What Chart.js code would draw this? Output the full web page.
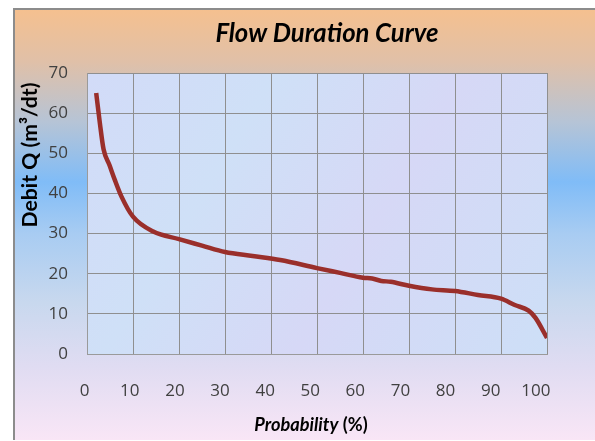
<!DOCTYPE html>
<html>
<head>
<meta charset="utf-8">
<script src="https://cdn.jsdelivr.net/npm/chart.js@4/dist/chart.umd.min.js"></script>
<style>
  body { margin: 0; background: #fff; }
  #frame {
    position: absolute; left: 13px; top: 8px; width: 582px; height: 432px;
    box-sizing: border-box;
    border-left: 2px solid #8c8c8c; border-top: 2px solid #8c8c8c;
    background: linear-gradient(to bottom, #f5c08f 0%, #e0c0a8 12%, #b6c4d6 26%, #80bcf7 40%, #a8ccf2 52%, #c8d8ee 68%, #e0dcf2 83%, #f9e6f6 100%);
  }
  #wrap { position: absolute; left: 13px; top: 8px; width: 582px; height: 432px; }
</style>
</head>
<body>
<div id="frame"></div>
<div id="wrap"><canvas id="chartFlow"></canvas></div>
<script>
// data
const probability = [2, 2.8, 3.6, 4.9, 6, 7.5, 10, 14.4, 20, 25, 30, 36, 42, 50, 55, 60, 62, 64, 66, 70, 75, 80, 85, 90, 93, 96, 97.5, 100];
const debit = [65, 57.5, 51, 47, 43.5, 39.2, 34.2, 30.5, 28.6, 27, 25.4, 24.4, 23.4, 21.4, 20.2, 19, 18.8, 18.2, 18, 17, 16.1, 15.7, 14.7, 13.8, 12.2, 10.8, 9, 4];
const xTicks = [0, 10, 20, 30, 40, 50, 60, 70, 80, 90, 100];
const yTicks = [0, 10, 20, 30, 40, 50, 60, 70];
const chartTitle = "Flow Duration Curve";
const yTitle = "Debit Q (m\u00B3/dt)";
const xTitleA = "Probability";
const xTitleB = " (%)";

let points = [];
for (let i = 0; i < probability.length; i++) {
  points.push({ x: probability[i], y: debit[i] });
}

// font size that makes text fill a given width
function fitFont(ctx, text, style, family, width) {
  ctx.font = style + " 20px " + family;
  let size = 20 * width / ctx.measureText(text).width;
  return style + " " + size.toFixed(1) + "px " + family;
}

const plotBackground = {
  id: "plotBackground",
  beforeDraw(chart) {
    let a = chart.chartArea;
    let ctx = chart.ctx;
    let g = ctx.createLinearGradient(a.left, a.top, a.right, a.bottom);
    g.addColorStop(0, "#d2dbf8");
    g.addColorStop(0.3, "#cfe0f7");
    g.addColorStop(0.6, "#d6d8f6");
    g.addColorStop(1, "#cddff7");
    ctx.save();
    ctx.fillStyle = g;
    ctx.fillRect(a.left, a.top, a.right - a.left, a.bottom - a.top);
    ctx.restore();
  },
};

const titles = {
  id: "titles",
  afterDraw(chart) {
    let ctx = chart.ctx;
    ctx.save();
    ctx.fillStyle = "#000";
    ctx.textBaseline = "alphabetic";

    // chart title
    ctx.textAlign = "center";
    ctx.font = fitFont(ctx, chartTitle, "italic bold", "Lato", 223);
    ctx.fillText(chartTitle, 314, 34);

    // x title, two parts
    ctx.textAlign = "left";
    let fa = fitFont(ctx, xTitleA + xTitleB, "italic bold", "Lato", 112);
    ctx.font = fa;
    let wa = ctx.measureText(xTitleA).width;
    let fb = fa.replace("italic ", "");
    ctx.font = fb;
    let wb = ctx.measureText(xTitleB).width;
    let x0 = 298 - (wa + wb) / 2;
    ctx.font = fa;
    ctx.fillText(xTitleA, x0, 423);
    ctx.font = fb;
    ctx.fillText(xTitleB, x0 + wa, 423);

    // y title
    ctx.translate(17.5, 147);
    ctx.rotate(-Math.PI / 2);
    ctx.textAlign = "center";
    ctx.textBaseline = "middle";
    ctx.font = fitFont(ctx, yTitle, "bold", "Lato", 145);
    ctx.fillText(yTitle, 0, 0);
    ctx.restore();
  },
};

var ctx = document.getElementById("chartFlow").getContext("2d");
var myChart = new Chart(ctx, {
  type: "line",
  data: {
    datasets: [
      {
        label: "Debit",
        data: points,
        borderColor: "#9a2f2b",
        borderWidth: 4.5,
        pointRadius: 0,
        fill: false,
        cubicInterpolationMode: "monotone",
        xAxisID: "x",
      },
    ],
  },
  options: {
    responsive: true,
    maintainAspectRatio: false,
    animation: false,
    layout: { padding: { top: 65, right: 48, left: 0, bottom: 0 } },
    plugins: {
      legend: { display: false },
      title: { display: false },
      tooltip: { enabled: false },
    },
    scales: {
      x: {
        type: "linear",
        position: "bottom",
        min: 0,
        max: 100,
        afterBuildTicks: (s) => { s.ticks = xTicks.map((v) => ({ value: v })); },
        afterFit: (s) => { s.height = 0; },
        ticks: { display: false },
        grid: { color: "#8f8f8f", lineWidth: 1, drawTicks: false },
        border: { color: "#9a9a9a", width: 1 },
      },
      xLabels: {
        type: "linear",
        position: "bottom",
        min: 0.51,
        max: 102.49,
        afterBuildTicks: (s) => { s.ticks = xTicks.map((v) => ({ value: v })); },
        afterFit: (s) => { s.height = 86; },
        ticks: {
          padding: 27,
          color: "#404040",
          font: { family: "Open Sans", size: 17 },
          maxRotation: 0,
          autoSkip: false,
        },
        grid: { display: false, drawTicks: false },
        border: { display: false },
      },
      y: {
        min: 0,
        max: 70,
        afterBuildTicks: (s) => { s.ticks = yTicks.map((v) => ({ value: v })); },
        afterFit: (s) => { s.width = 74; },
        ticks: {
          padding: 19,
          color: "#404040",
          font: { family: "Open Sans", size: 17 },
        },
        grid: { color: "#8f8f8f", lineWidth: 1, drawTicks: false },
        border: { color: "#9a9a9a", width: 1 },
      },
    },
  },
  plugins: [plotBackground, titles],
});
</script>
</body>
</html>
